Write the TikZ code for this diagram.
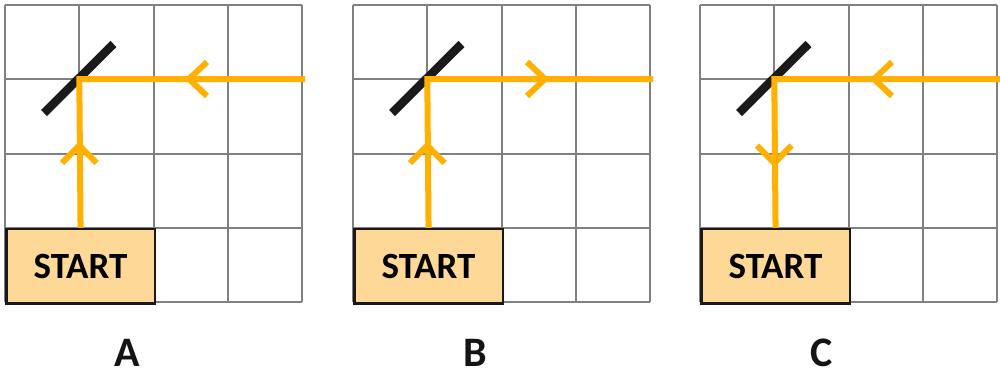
\documentclass[tikz,border=0pt]{standalone}
\usepackage{fontspec}
\setmainfont{Carlito}
\definecolor{rayc}{HTML}{FFB000}
\definecolor{boxfill}{HTML}{FDD896}
\definecolor{gridc}{HTML}{808080}
\definecolor{mirrorc}{HTML}{1A1A1A}
\tikzset{
  gridline/.style={draw=gridc, line width=2pt},
  startbox/.style={draw=black!90, line width=2.5pt, fill=boxfill, rectangle,
    minimum width=148.6pt, minimum height=74.3pt, inner sep=0pt,
    anchor=north west, font=\fontsize{37}{39}\selectfont\bfseries},
  ray/.style={draw=rayc, line width=6pt, line join=miter},
  chev/.style={draw=rayc, line width=6pt, line join=miter},
  mirror/.style={draw=mirrorc, line width=8.5pt},
  panellabel/.style={font=\fontsize{42}{44}\selectfont\bfseries, text=black!92,
    inner sep=0pt, anchor=base},
}
\begin{document}
\begin{tikzpicture}[x=1pt,y=-1pt]
\useasboundingbox (0,0) rectangle (1000,378);
% ---------- panel template ----------
\foreach \px/\pn in {5/A,353/B,700/C}{
  \begin{scope}[shift={(\px,5)}]
    \foreach \i in {0,1,2,3,4}{
      \draw[gridline] (\i*74.3,0) -- (\i*74.3,297.2);
      \draw[gridline] (0,\i*74.3) -- (297.2,\i*74.3);
    }
    \node[startbox] (s\pn) at (0,222.9) {START};
    \coordinate (c\pn) at (74.3,74);
    \coordinate (r\pn) at (300,74);
    \coordinate (m1\pn) at (39,108);
    \coordinate (m2\pn) at (108.5,39);
    \draw[mirror] (m1\pn) -- (m2\pn);
    \draw[ray] (r\pn) -- (c\pn) -- (s\pn.north);
    \node[panellabel] (l\pn) at (122,361) {\pn};
  \end{scope}
}
% ---------- chevrons ----------
\begin{scope}[shift={(5,5)}]
  \draw[chev] (202,57) -- (184,74) -- (202,91);
  \draw[chev] (57,158) -- (74.3,140.5) -- (91.6,158);
\end{scope}
\begin{scope}[shift={(353,5)}]
  \draw[chev] (174,57) -- (192,74) -- (174,91);
  \draw[chev] (57,158) -- (74.3,140.5) -- (91.6,158);
\end{scope}
\begin{scope}[shift={(700,5)}]
  \draw[chev] (192,57) -- (174,74) -- (192,91);
  \draw[chev] (57,140.5) -- (74.3,158) -- (91.6,140.5);
\end{scope}
\end{tikzpicture}
\end{document}
